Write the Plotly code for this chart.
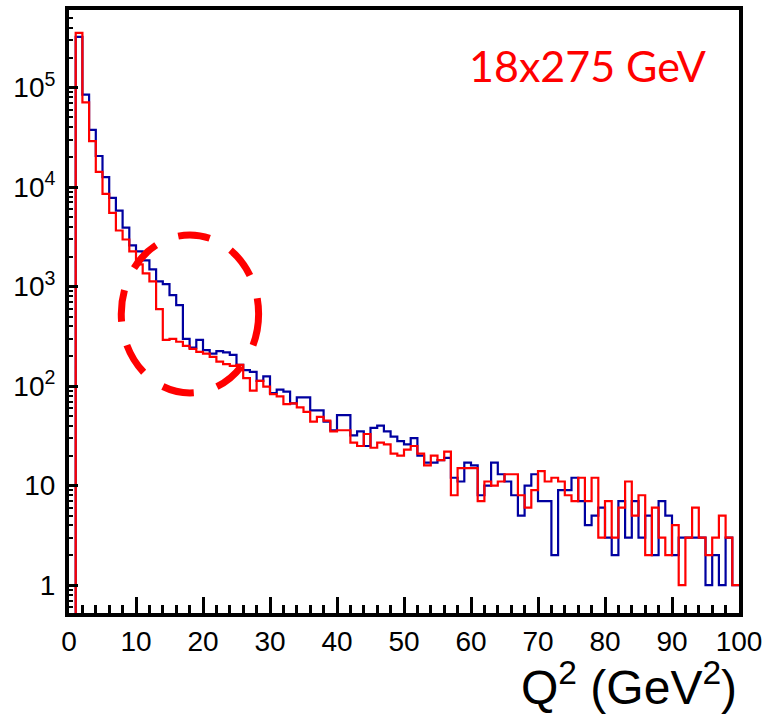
import numpy as np
import plotly.graph_objects as go

# Q^2 histogram, 1 GeV^2 bins from 0 to 100
bin_edges = list(range(0, 101))

counts_blue = [
    0, 323000, 85000, 37500, 20500, 12600, 7800, 5800, 3920, 2590,
    2260, 1830, 1490, 1130, 1060, 820, 652, 298, 243, 292,
    230, 212, 225, 218, 206, 163, 145, 139, 113, 125,
    85, 92, 88, 67, 77, 77, 57, 57, 44, 36,
    51, 51, 32, 35, 25, 38, 40, 35, 31, 28,
    26, 30, 20, 17, 17, 18, 19, 12, 11, 17,
    16, 8, 10, 17, 13, 11, 8, 5, 10, 13,
    7, 7, 2, 9, 9, 12, 7, 4, 5, 6,
    3, 2, 7, 3, 7, 3, 5, 2, 7, 5,
    2, 3, 3, 3, 3, 1, 2, 1, 3, 1,
]

counts_red = [
    0, 354000, 71000, 28900, 14200, 8550, 5500, 3660, 2970, 2260,
    1670, 1360, 1130, 594, 292, 298, 279, 254, 237, 221,
    212, 197, 176, 166, 160, 163, 120, 90, 113, 99,
    83, 79, 66, 67, 61, 55, 44, 49, 45, 35,
    36, 36, 27, 25, 33, 24, 27, 26, 21, 20,
    23, 25, 21, 16, 20, 18, 22, 8, 15, 15,
    15, 7, 11, 10, 11, 13, 13, 8, 6, 9,
    14, 11, 12, 11, 8, 7, 12, 7, 12, 3,
    7, 3, 6, 11, 5, 8, 2, 6, 3, 2,
    4, 1, 3, 6, 3, 2, 3, 5, 3, 1,
]

y_tickvals = [1, 10, 100, 1000, 10000, 100000]
y_ticktext = ["1", "10", "10<sup>2</sup>", "10<sup>3</sup>", "10<sup>4</sup>", "10<sup>5</sup>"]


def step_values(counts):
    """Counts per bin -> y values for an 'hv' step line (empty bins pushed below the axis)."""
    c = np.asarray(counts, dtype=float)
    c = np.where(c > 0, c, 1e-3)
    return np.append(c, c[-1])


fig = go.Figure()
fig.add_trace(go.Scatter(
    x=bin_edges, y=step_values(counts_blue), mode="lines",
    line=dict(shape="hv", color="#0000a0", width=2.2), name="blue",
))
fig.add_trace(go.Scatter(
    x=bin_edges, y=step_values(counts_red), mode="lines",
    line=dict(shape="hv", color="#ff0000", width=2.2), name="red",
))

tick_font = dict(family="Liberation Sans, Arial, sans-serif", size=28, color="black")

fig.update_xaxes(
    range=[0, 100], showline=True, linewidth=4, linecolor="black", mirror=True,
    ticks="inside", ticklen=16, tickwidth=3, tickcolor="black", dtick=10, tick0=0,
    minor=dict(ticks="inside", ticklen=8, tickwidth=3, tickcolor="black", dtick=2, showgrid=False),
    showgrid=False, zeroline=False, tickfont=tick_font,
)
fig.update_yaxes(
    type="log", range=[-0.28, 5.779], showline=True, linewidth=4, linecolor="black", mirror=True,
    ticks="inside", ticklen=9, tickwidth=3, tickcolor="black",
    tickmode="array", tickvals=y_tickvals, ticktext=y_ticktext,
    minor=dict(ticks="inside", ticklen=4, tickwidth=2, tickcolor="black", dtick="D1", showgrid=False),
    showgrid=False, zeroline=False, tickfont=tick_font, ticklabelstandoff=4,
)

# x-axis title, right aligned under the axis
fig.add_annotation(
    xref="paper", yref="paper", x=1.0, y=-0.117, xanchor="right", yanchor="middle",
    text="Q<sup>2</sup> (GeV<sup>2</sup>)", showarrow=False,
    font=dict(family="Liberation Sans, Arial, sans-serif", size=48, color="black"),
)

# beam energy label
fig.add_annotation(
    xref="paper", yref="paper", x=0.774, y=0.908, xanchor="center", yanchor="middle",
    text="18x275 GeV", showarrow=False,
    font=dict(family="Lato, sans-serif", size=43, color="#ff0000"),
)

# dashed ellipse highlighting the 10-25 GeV^2 region
fig.add_shape(
    type="circle", xref="paper", yref="paper",
    x0=0.078, x1=0.283, y0=0.365, y1=0.627,
    line=dict(color="#ff0000", width=7, dash="32px,24px"),
)

fig.update_layout(
    width=768, height=717,
    margin=dict(l=69, r=28, t=6, b=104),
    plot_bgcolor="white", paper_bgcolor="white",
    showlegend=False,
)

fig.write_html("out.html")
